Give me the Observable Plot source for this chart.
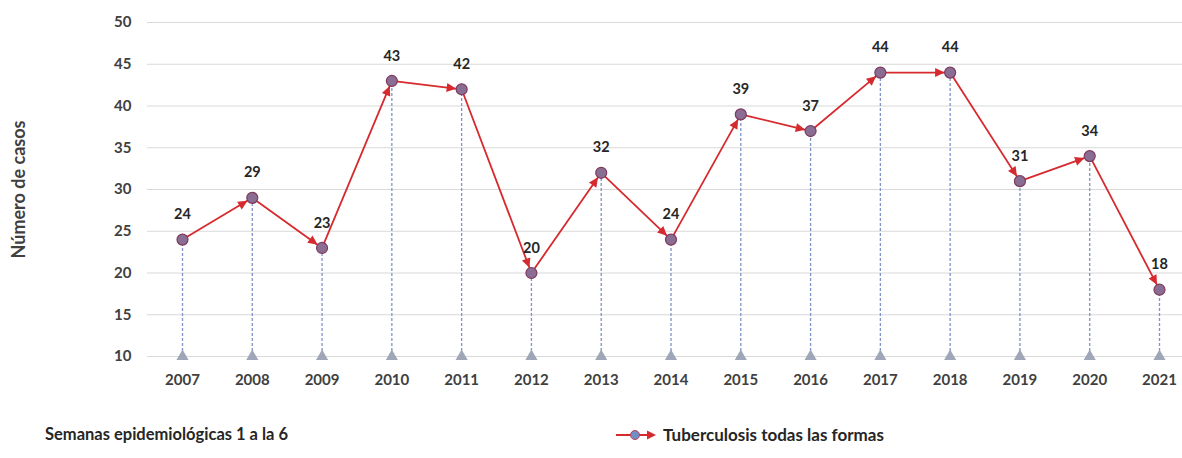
<!DOCTYPE html>
<html>
<head>
<meta charset="utf-8">
<script src="https://cdn.jsdelivr.net/npm/d3@7"></script>
<script src="https://cdn.jsdelivr.net/npm/@observablehq/plot@0.6"></script>
<style>
  html, body { margin: 0; padding: 0; background: #fff; }
  body { width: 1182px; height: 458px; overflow: hidden; font-family: Lato, "Open Sans", sans-serif; }
  #chart svg { display: block; }
  #foot { position: relative; height: 58px; font-weight: 700; color: #262626; }
  #caption { position: absolute; left: 45px; top: 24px; font-size: 16.5px; }
  #legend { position: absolute; left: 614px; top: 24px; display: flex; align-items: center; gap: 5px; font-size: 17px; }
</style>
</head>
<body>
<div id="chart"></div>
<div id="foot">
  <div id="caption">Semanas epidemiológicas 1 a la 6</div>
  <div id="legend">
    <svg width="44" height="14"><line x1="2" y1="7" x2="36" y2="7" stroke="#d62a2f" stroke-width="2"/><circle cx="21" cy="7" r="4.5" fill="#6f8fc6" stroke="#c04050" stroke-width="1"/><path d="M33,2.5 L42,7 L33,11.5 Z" fill="#d62a2f"/></svg>
    <span>Tuberculosis todas las formas</span>
  </div>
</div>
<script>
const years = ["2007","2008","2009","2010","2011","2012","2013","2014","2015","2016","2017","2018","2019","2020","2021"];
const cases = [24, 29, 23, 43, 42, 20, 32, 24, 39, 37, 44, 44, 31, 34, 18];
const yTicks = [10, 15, 20, 25, 30, 35, 40, 45, 50];
const baseValue = 10;
const yLabel = "Número de casos";

const data = years.map((y, i) => ({year: y, value: cases[i]}));
// one segment per consecutive pair so each arrowhead follows its incoming segment
const segments = years.slice(1).flatMap((y, i) => [
  {seg: i, year: years[i], value: cases[i]},
  {seg: i, year: y, value: cases[i + 1]}
]);

const plot = Plot.plot({
  width: 1182,
  height: 400,
  marginLeft: 147,
  marginRight: 0,
  marginTop: 22,
  marginBottom: 44,
  style: {fontFamily: "Lato, 'Open Sans', sans-serif", fontWeight: 700, color: "#404040"},
  x: {type: "point", domain: years, padding: 0, round: false, insetLeft: 35, insetRight: 23},
  y: {domain: [10, 50]},
  marks: [
    Plot.gridY(yTicks, {stroke: "#d9d9d9", strokeOpacity: 1, strokeWidth: 1}),
    Plot.axisY(yTicks, {tickSize: 0, tickPadding: 16, fontSize: 15, fontWeight: 700, fill: "#404040", label: null}),
    Plot.axisX({tickSize: 0, tickPadding: 18, fontSize: 15, fontWeight: 700, fill: "#404040", label: null}),
    Plot.text([yLabel], {frameAnchor: "left", textAnchor: "middle", rotate: -90, dx: -128, fontSize: 18, fontWeight: 700, fill: "#404040"}),
    Plot.ruleX(data, {x: "year", y1: baseValue, y2: "value", stroke: "#7f93c9", strokeWidth: 1.3, strokeDasharray: "3,2"}),
    Plot.dot(data, {x: "year", y: baseValue, symbol: "triangle", r: 4.5, fill: "#9ea6b8", stroke: "none"}),
    Plot.line(segments, {x: "year", y: "value", z: "seg", stroke: "#d62a2f", strokeWidth: 1.8, markerEnd: "arrow"}),
    Plot.dot(data, {x: "year", y: "value", r: 5.5, fill: "#8a6d92", stroke: "#7d3a5e", strokeWidth: 1.2}),
    Plot.text(data, {x: "year", y: "value", text: d => String(d.value), dy: -25, fontSize: 14.5, fontWeight: 700, fill: "#262626"})
  ]
});

// restyle the arrow markers as filled heads whose tip stops at the circle edge
plot.querySelectorAll("marker").forEach(m => {
  const color = m.getAttribute("stroke") || "#d62a2f";
  m.setAttribute("markerUnits", "userSpaceOnUse");
  m.setAttribute("viewBox", "-20 -10 40 20");
  m.setAttribute("markerWidth", "40");
  m.setAttribute("markerHeight", "20");
  m.setAttribute("fill", color);
  m.setAttribute("stroke", "none");
  m.innerHTML = "";
  const p = document.createElementNS("http://www.w3.org/2000/svg", "path");
  p.setAttribute("d", "M-15,-4.5L-5.5,0L-15,4.5Z");
  m.appendChild(p);
});

document.getElementById("chart").appendChild(plot);
</script>
</body>
</html>
